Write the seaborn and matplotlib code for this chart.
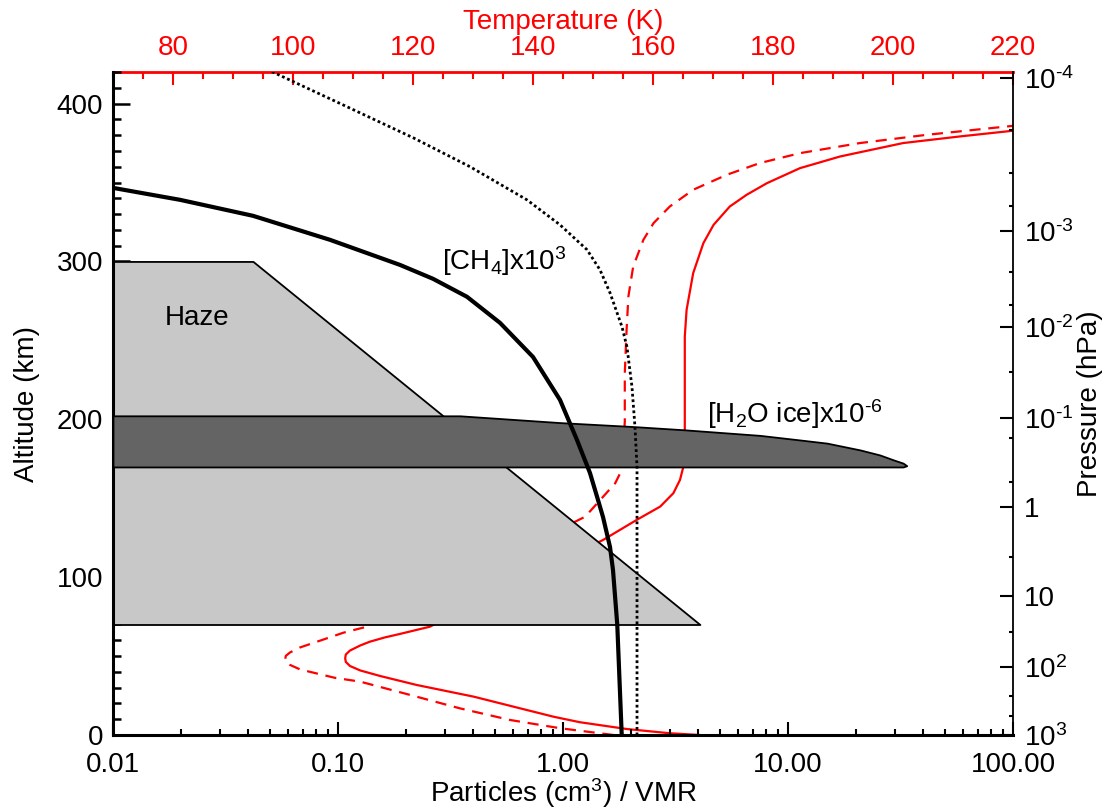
"""
Haze / H2O ice / CH4 profiles with temperature and pressure axes
"""
import numpy as np
import matplotlib
matplotlib.use('Agg')
import matplotlib.pyplot as plt
import seaborn as sns
from matplotlib.ticker import FixedLocator, MultipleLocator, LogLocator, NullFormatter

sns.set_style('ticks')
plt.rcParams['font.family'] = ['Liberation Sans', 'DejaVu Sans']
plt.rcParams['mathtext.fontset'] = 'custom'
plt.rcParams['mathtext.rm'] = 'Liberation Sans'
plt.rcParams['mathtext.it'] = 'Liberation Sans:italic'
plt.rcParams['mathtext.bf'] = 'Liberation Sans:bold'
plt.rcParams['font.size'] = 20
for k in ['text.color', 'axes.labelcolor', 'xtick.color', 'ytick.color', 'axes.edgecolor']:
    plt.rcParams[k] = 'black'

# ---- 数据 ----
# CH4 x10^3 (粗黑线)
ch4_val = [0.01, 0.0199, 0.0419, 0.0921, 0.1886, 0.2644, 0.3744, 0.5248, 0.7356,
           0.9698, 1.154, 1.318, 1.431, 1.506, 1.618, 1.668, 1.743, 1.824]
ch4_alt = [346.6, 339.0, 328.9, 313.7, 297.8, 289.0, 277.6, 261.1, 239.5,
           212.3, 186.9, 166.0, 148.9, 138.1, 119.1, 104.6, 69.7, 0.0]

# 点线
dot_val = [0.0509, 0.1074, 0.2176, 0.3862, 0.6918, 0.9698, 1.279, 1.46, 1.618,
           1.829, 1.924, 2.026, 2.089, 2.133, 2.133]
dot_alt = [420.2, 398.6, 378.1, 360.0, 339.0, 323.2, 307.4, 294.7, 280.1,
           258.6, 245.9, 220.5, 195.2, 169.8, 0.0]

# 温度廓线 (实线)
temp_solid = [167.8, 162.8, 155.6, 147.8, 143.4, 139.0, 130.1, 120.6, 114.5, 111.2,
              109.5, 108.8, 108.7, 108.8, 109.5, 111.2, 112.8, 115.3, 117.8, 122.8,
              137.2, 151.7, 157.3, 161.2, 163.4, 164.5, 165.0, 165.3, 165.3, 165.6,
              165.9, 166.7, 168.4, 170.1, 172.8, 175.6, 179.0, 184.5, 191.2, 201.7,
              211.2, 220.0]
alt_solid = [0.0, 1.1, 3.8, 8.1, 11.6, 15.8, 24.3, 31.7, 37.4, 40.9,
             43.7, 46.3, 48.6, 51.0, 53.5, 56.7, 59.1, 61.8, 64.0, 68.6,
             96.3, 123.6, 136.3, 144.7, 153.2, 161.6, 169.0, 193.3, 252.4, 269.3,
             275.7, 292.6, 311.6, 323.2, 334.8, 342.2, 349.6, 359.1, 366.5, 375.0,
             379.2, 382.8]

# 温度廓线 (虚线)
temp_dash = [153.4, 144.5, 136.2, 127.8, 119.5, 111.2, 107.0, 101.2, 99.5, 98.8,
             98.7, 98.8, 99.5, 101.2, 104.0, 108.4, 112.3, 130.5, 148.7, 151.7,
             153.7, 154.8, 155.3, 155.3, 155.6, 155.9, 156.7, 158.4, 160.1, 162.8,
             166.7, 172.3, 177.8, 184.5, 194.5, 205.6, 220.0]
alt_dash = [0.0, 4.3, 9.5, 16.9, 25.4, 33.8, 36.2, 41.5, 44.4, 46.3,
            48.0, 50.1, 52.3, 55.5, 59.1, 64.8, 68.6, 103.9, 138.3, 151.0,
            159.5, 167.9, 198.5, 229.2, 256.7, 277.8, 296.8, 313.7, 324.3, 334.8,
            345.4, 354.9, 362.3, 368.6, 375.0, 380.2, 385.9]

# Haze 区域
haze_alt = [70.0, 300.0]
haze_val = [4.06, 0.0419]

# H2O ice x10^-6
ice_alt = [169.8, 170.6, 172.2, 174.3, 177.4, 180.6, 184.9, 186.9, 189.8, 193.3,
           195.4, 197.9, 202.2]
ice_val = [32.5, 33.7, 32.5, 29.4, 25.6, 20.9, 14.9, 11.3, 7.51, 3.49,
           2.05, 0.97, 0.348]

# 压力坐标 (右轴)
press_labels = [r'10$^{\text{-}4}$', r'10$^{\text{-}3}$', r'10$^{\text{-}2}$',
                r'10$^{\text{-}1}$', '1', '10', '10$^{2}$', '10$^{3}$']
press_alt = [416.3, 319.4, 258.7, 200.7, 144.7, 88.3, 43.3, 0.0]
press_minor_alt = [383.0, 356.0, 335.4, 293.4, 272.1, 230.2, 188.0, 160.0, 113.0, 65.0, 25.0, 12.0]

x_ticks = [0.01, 0.1, 1, 10, 100]
x_ticklabels = ['0.01', '0.10', '1.00', '10.00', '100.00']

fig = plt.figure(figsize=(11.1, 8.1), dpi=100)
ax = fig.add_axes([0.1018, 0.0926, 0.8108, 0.8185])
ax_t = ax.twiny()
ax_r = ax.twinx()

# 图层顺序: 温度线在最下, haze/ice 覆盖, 黑线在上
ax_t.set_zorder(1)
ax.set_zorder(2)
ax_r.set_zorder(3)
ax.patch.set_visible(False)
ax_r.patch.set_visible(False)
ax_t.patch.set_facecolor('white')

# ---- 主坐标 ----
ax.set_xscale('log')
ax.set_xlim(0.01, 100)
ax.set_ylim(0, 420)

ax.fill_betweenx(haze_alt, 0.01, haze_val, facecolor='#c8c8c8', edgecolor='black',
                 linewidth=1.3, zorder=2)
ax.fill_betweenx(ice_alt, 0.01, ice_val, facecolor='#646464', edgecolor='black',
                 linewidth=1.3, zorder=3)
sns.lineplot(x=ch4_val, y=ch4_alt, sort=False, estimator=None, color='black',
             linewidth=3, ax=ax, zorder=5)
sns.lineplot(x=dot_val, y=dot_alt, sort=False, estimator=None, color='black',
             linewidth=2, linestyle=(0, (1, 1)), ax=ax, zorder=5)

ax.text(0.017, 260, 'Haze', va='baseline', ha='left')
ax.text(0.289, 294.7, r'[CH$_4$]x10$^3$', va='baseline', ha='left')
ax.text(4.35, 197.5, r'[H$_2$O ice]x10$^{\text{-}6}$', va='baseline', ha='left')

ax.set_xticks(x_ticks, x_ticklabels)
ax.xaxis.set_minor_locator(LogLocator(base=10, subs=np.arange(2, 10) * 1.0, numticks=20))
ax.xaxis.set_minor_formatter(NullFormatter())
ax.set_yticks([0, 100, 200, 300, 400])
ax.yaxis.set_minor_locator(MultipleLocator(10))
ax.tick_params(axis='x', which='major', direction='in', length=9.5, width=1.5, pad=12)
ax.tick_params(axis='x', which='minor', direction='in', length=4.5, width=1.5)
ax.tick_params(axis='y', which='major', direction='in', length=12, width=1.8, pad=7)
ax.tick_params(axis='y', which='minor', direction='in', length=6, width=1.8)
ax.spines['top'].set_visible(False)
ax.spines['right'].set_visible(False)
ax.spines['left'].set_linewidth(2.2)
ax.spines['bottom'].set_linewidth(2.2)
ax.set_xlabel('Particles (cm$^3$) / VMR', labelpad=-1)
ax.set_ylabel('Altitude (km)', labelpad=12)

# ---- 温度坐标 (上轴) ----
ax_t.set_xlim(70, 220)
sns.lineplot(x=temp_solid, y=alt_solid, sort=False, estimator=None, color='red',
             linewidth=1.6, ax=ax_t)
sns.lineplot(x=temp_dash, y=alt_dash, sort=False, estimator=None, color='red',
             linewidth=1.6, linestyle=(0, (5, 3.5)), ax=ax_t)
ax_t.set_ylim(0, 420)
ax_t.xaxis.set_major_locator(MultipleLocator(20))
ax_t.xaxis.set_minor_locator(MultipleLocator(5))
ax_t.tick_params(axis='x', which='major', direction='in', length=9.5, width=1.5, pad=8,
                 colors='red')
ax_t.tick_params(axis='x', which='minor', direction='in', length=5, width=1.5, colors='red')
ax_t.tick_params(axis='y', which='both', left=False, right=False, labelleft=False,
                 labelright=False)
for s in ['left', 'right', 'bottom']:
    ax_t.spines[s].set_visible(False)
ax_t.spines['top'].set_color('red')
ax_t.spines['top'].set_linewidth(2)
ax_t.set_xlabel('Temperature (K)', color='red', labelpad=4)
ax_t.set_ylabel('')

# ---- 压力坐标 (右轴) ----
ax_r.set_ylim(0, 420)
ax_r.set_yticks(press_alt, press_labels)
ax_r.yaxis.set_minor_locator(FixedLocator(press_minor_alt))
ax_r.tick_params(axis='y', which='major', direction='in', length=9.5, width=1.5, pad=8)
ax_r.tick_params(axis='y', which='minor', direction='in', length=3, width=1.5)
for s in ['left', 'top', 'bottom']:
    ax_r.spines[s].set_visible(False)
ax_r.spines['right'].set_linewidth(1.3)
ax_r.set_ylabel('Pressure (hPa)', labelpad=2)

plt.savefig('out.png', dpi=100)
plt.close()
